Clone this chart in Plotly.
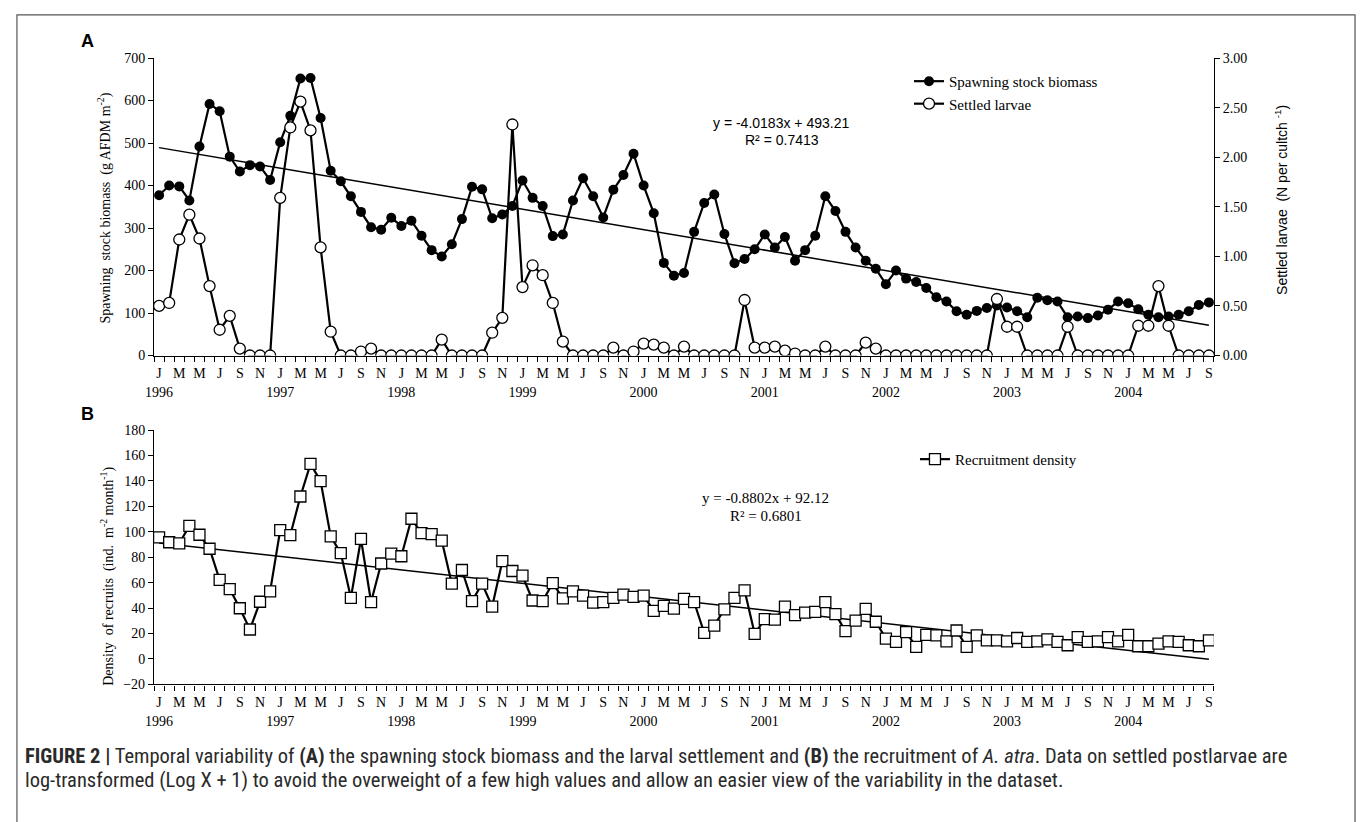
import plotly.graph_objects as go

# ---- data -------------------------------------------------------------
years = [1996, 1997, 1998, 1999, 2000, 2001, 2002, 2003, 2004]
month_letters = ["J", "F", "M", "A", "M", "J", "J", "A", "S", "O", "N", "D"]

# Spawning stock biomass (g AFDM m-2), monthly Jan 1996 - Sep 2004
biomass = [377, 400, 398, 365, 492, 592, 575, 468, 433, 448, 445, 413,
           502, 564, 652, 653, 559, 435, 410, 375, 338, 302, 296, 324,
           305, 317, 282, 248, 233, 262, 321, 397, 391, 323, 332, 352,
           412, 371, 352, 281, 285, 365, 417, 375, 325, 390, 425, 475,
           400, 335, 218, 188, 194, 291, 359, 379, 286, 217, 227, 250,
           285, 254, 279, 223, 248, 282, 375, 340, 291, 254, 223, 204,
           168, 200, 181, 173, 159, 137, 127, 104, 96, 105, 112, 118,
           113, 104, 90, 136, 130, 127, 90, 92, 88, 94, 108, 127,
           123, 109, 96, 90, 92, 96, 104, 119, 125]

# Settled larvae (N per cultch-1, log X + 1)
larvae = [0.50, 0.53, 1.17, 1.42, 1.18, 0.70, 0.26, 0.40, 0.07, 0.00, 0.00, 0.00,
          1.59, 2.30, 2.56, 2.27, 1.09, 0.24, 0.00, 0.00, 0.04, 0.07, 0.00, 0.00,
          0.00, 0.00, 0.00, 0.00, 0.16, 0.00, 0.00, 0.00, 0.00, 0.23, 0.38, 2.33,
          0.69, 0.91, 0.81, 0.53, 0.14, 0.00, 0.00, 0.00, 0.00, 0.08, 0.00, 0.04,
          0.12, 0.11, 0.08, 0.00, 0.09, 0.00, 0.00, 0.00, 0.00, 0.00, 0.56, 0.08,
          0.08, 0.09, 0.05, 0.02, 0.00, 0.00, 0.09, 0.00, 0.00, 0.00, 0.13, 0.07,
          0.00, 0.00, 0.00, 0.00, 0.00, 0.00, 0.00, 0.00, 0.00, 0.00, 0.00, 0.57,
          0.29, 0.29, 0.00, 0.00, 0.00, 0.00, 0.29, 0.00, 0.00, 0.00, 0.00, 0.00,
          0.00, 0.30, 0.30, 0.70, 0.30, 0.00, 0.00, 0.00, 0.00]

# Density of recruits (ind. m-2 month-1)
recruits = [95.7, 91.8, 91.0, 104.7, 97.7, 86.7, 62.2, 55.0, 39.9, 23.2, 45.0, 53.2,
            101.3, 97.5, 127.8, 153.5, 139.9, 96.4, 83.3, 48.1, 94.4, 44.8, 75.1, 82.8,
            80.8, 110.3, 99.0, 98.2, 93.1, 59.2, 70.0, 45.5, 59.2, 41.2, 76.9, 69.2,
            65.6, 46.0, 45.5, 59.7, 47.6, 53.2, 49.9, 44.3, 44.8, 48.1, 50.7, 48.9,
            49.9, 37.8, 41.7, 39.6, 47.3, 44.8, 20.6, 26.2, 39.1, 48.1, 54.0, 19.8,
            31.4, 30.9, 41.2, 34.5, 36.5, 37.0, 44.8, 35.3, 21.9, 30.1, 39.4, 29.3,
            16.0, 13.4, 21.1, 9.5, 19.0, 18.5, 13.9, 22.4, 9.5, 18.5, 14.7, 14.7,
            13.9, 16.5, 13.4, 13.9, 15.5, 13.4, 10.8, 17.2, 13.4, 13.9, 17.2, 13.9,
            19.0, 10.0, 10.0, 12.1, 13.9, 13.4, 10.8, 10.0, 14.7]

# Linear trends (x = 1 for Jan 1996)
trend_biomass = (-4.0183, 493.21)
trend_recruits = (-0.8802, 92.12)
eq_biomass = ["y = -4.0183x + 493.21", "R² = 0.7413"]
eq_recruits = ["y = -0.8802x + 92.12", "R² = 0.6801"]

# ---- helpers ----------------------------------------------------------
W, H = 1360, 822
SERIF = "Liberation Serif, Times New Roman, serif"
SANS = "Liberation Sans, Arial, sans-serif"
NARROW = "Liberation Sans Narrow, Arial Narrow, Roboto Condensed, sans-serif"


def fx(p):
    return p / W


def fy(p):
    return 1 - p / H


n = len(biomass)
idx = list(range(n))

tickvals = list(range(0, n, 2))
ticktext = []
for i in tickvals:
    lab = month_letters[i % 12]
    if i % 12 == 0:
        lab += "<br>" + str(years[i // 12])
    ticktext.append(lab)

fit_x = [1, n]
fit_i = [v - 1 for v in fit_x]

fig = go.Figure()

# Panel A
fig.add_trace(go.Scatter(
    x=fit_i, y=[trend_biomass[0] * v + trend_biomass[1] for v in fit_x],
    mode="lines", line=dict(color="black", width=1.5),
    showlegend=False, hoverinfo="skip", xaxis="x", yaxis="y"))
fig.add_trace(go.Scatter(
    x=idx, y=biomass, name="Spawning stock biomass", mode="lines+markers",
    line=dict(color="black", width=2.2),
    marker=dict(symbol="circle", size=10, color="black"),
    xaxis="x", yaxis="y", legend="legend"))
fig.add_trace(go.Scatter(
    x=idx, y=larvae, name="Settled larvae", mode="lines+markers",
    line=dict(color="black", width=2.2),
    marker=dict(symbol="circle", size=11, color="white",
                line=dict(color="black", width=1.3)),
    xaxis="x", yaxis="y2", legend="legend"))

# Panel B
fig.add_trace(go.Scatter(
    x=fit_i, y=[trend_recruits[0] * v + trend_recruits[1] for v in fit_x],
    mode="lines", line=dict(color="black", width=1.5),
    showlegend=False, hoverinfo="skip", xaxis="x2", yaxis="y3"))
fig.add_trace(go.Scatter(
    x=idx, y=recruits, name="Recruitment density", mode="lines+markers",
    line=dict(color="black", width=2.2),
    marker=dict(symbol="square", size=11, color="white",
                line=dict(color="black", width=1.3)),
    xaxis="x2", yaxis="y3", legend="legend2"))

tick_font = dict(family=SERIF, size=14, color="black")

xcommon = dict(
    range=[-0.5, n - 0.5], showline=True, linecolor="black", linewidth=1.2,
    tickmode="array", tickvals=tickvals, ticktext=ticktext, tickangle=0,
    ticks="outside", ticklen=5, tickcolor="rgba(0,0,0,0)",
    tickfont=tick_font, showgrid=False, zeroline=False,
    minor=dict(tickmode="linear", tick0=-0.5, dtick=1, ticks="outside",
               ticklen=5, tickwidth=1, tickcolor="black", showgrid=False),
    domain=[fx(146), fx(1213)])

ycommon = dict(showline=True, linecolor="black", linewidth=1.2,
               ticks="outside", ticklen=5, tickcolor="black",
               tickfont=tick_font, showgrid=False, zeroline=False)

fig.update_layout(
    width=W, height=H,
    margin=dict(l=0, r=0, t=0, b=0),
    paper_bgcolor="white", plot_bgcolor="white",
    xaxis=dict(anchor="y", **xcommon),
    yaxis=dict(domain=[fy(355), fy(52)], range=[0, 700], dtick=100,
               anchor="x", **ycommon),
    yaxis2=dict(range=[0, 3], dtick=0.5, tickformat=".2f", overlaying="y",
                side="right", anchor="x", **ycommon),
    xaxis2=dict(anchor="y3", **xcommon),
    yaxis3=dict(domain=[fy(690), fy(431)], range=[-20, 180], dtick=20,
                anchor="x2", **ycommon),
    legend=dict(x=fx(906), y=fy(59), xanchor="left", yanchor="top",
                bgcolor="rgba(0,0,0,0)", font=dict(family=SERIF, size=15, color="black"),
                tracegroupgap=0, itemwidth=30),
    legend2=dict(x=fx(912), y=fy(444), xanchor="left", yanchor="top",
                 bgcolor="rgba(0,0,0,0)", font=dict(family=SERIF, size=15, color="black"),
                 itemwidth=30),
    showlegend=True,
)

ann = []
# panel letters
ann.append(dict(x=fx(79), y=fy(35), text="<b>A</b>", font=dict(family=SANS, size=18, color="black")))
ann.append(dict(x=fx(79), y=fy(415), text="<b>B</b>", font=dict(family=SANS, size=18, color="black")))
# axis titles
ann.append(dict(x=fx(96), y=fy(205), textangle=-90,
                text="Spawning  stock biomass  (g AFDM m<sup>-2</sup>)",
                font=dict(family=SERIF, size=14, color="black")))
ann.append(dict(x=fx(1281), y=fy(197), textangle=-90,
                text="Settled larvae  (N per cultch <sup>-1</sup>)",
                font=dict(family=SANS, size=14, color="black")))
ann.append(dict(x=fx(99), y=fy(580), textangle=-90,
                text="Density  of recruits  (ind.  m<sup>-2</sup> month<sup>-1</sup>)",
                font=dict(family=SERIF, size=14, color="black")))
# regression equations
ann.append(dict(x=fx(777), y=fy(118), text=eq_biomass[0], font=dict(family=SANS, size=14, color="black")))
ann.append(dict(x=fx(778), y=fy(135), text=eq_biomass[1], font=dict(family=SANS, size=14, color="black")))
ann.append(dict(x=fx(762), y=fy(500), text=eq_recruits[0], font=dict(family=SERIF, size=15, color="black")))
ann.append(dict(x=fx(762), y=fy(518), text=eq_recruits[1], font=dict(family=SERIF, size=15, color="black")))
# caption
cap1 = ("<b>FIGURE 2 |</b> Temporal variability of <b>(A)</b> the spawning stock biomass and the larval "
        "settlement and <b>(B)</b> the recruitment of <i>A. atra</i>. Data on settled postlarvae are")
cap2 = ("log-transformed (Log X + 1) to avoid the overweight of a few high values and allow an easier "
        "view of the variability in the dataset.")
ann.append(dict(x=fx(14), y=fy(763), text=cap1, xanchor="left",
                font=dict(family=NARROW, size=20.5, color="#2a2a2a")))
ann.append(dict(x=fx(14), y=fy(787), text=cap2, xanchor="left",
                font=dict(family=NARROW, size=20.5, color="#2a2a2a")))

for a in ann:
    a.setdefault("xref", "paper")
    a.setdefault("yref", "paper")
    a.setdefault("showarrow", False)
    a.setdefault("xanchor", "center")
    a.setdefault("yanchor", "middle")
fig.update_layout(annotations=ann)

# figure frame
fig.add_shape(type="rect", xref="paper", yref="paper",
              x0=fx(8), x1=fx(1355), y0=fy(840), y1=fy(8),
              line=dict(color="#555", width=1.2), fillcolor="rgba(0,0,0,0)")

fig.write_html("out.html")
